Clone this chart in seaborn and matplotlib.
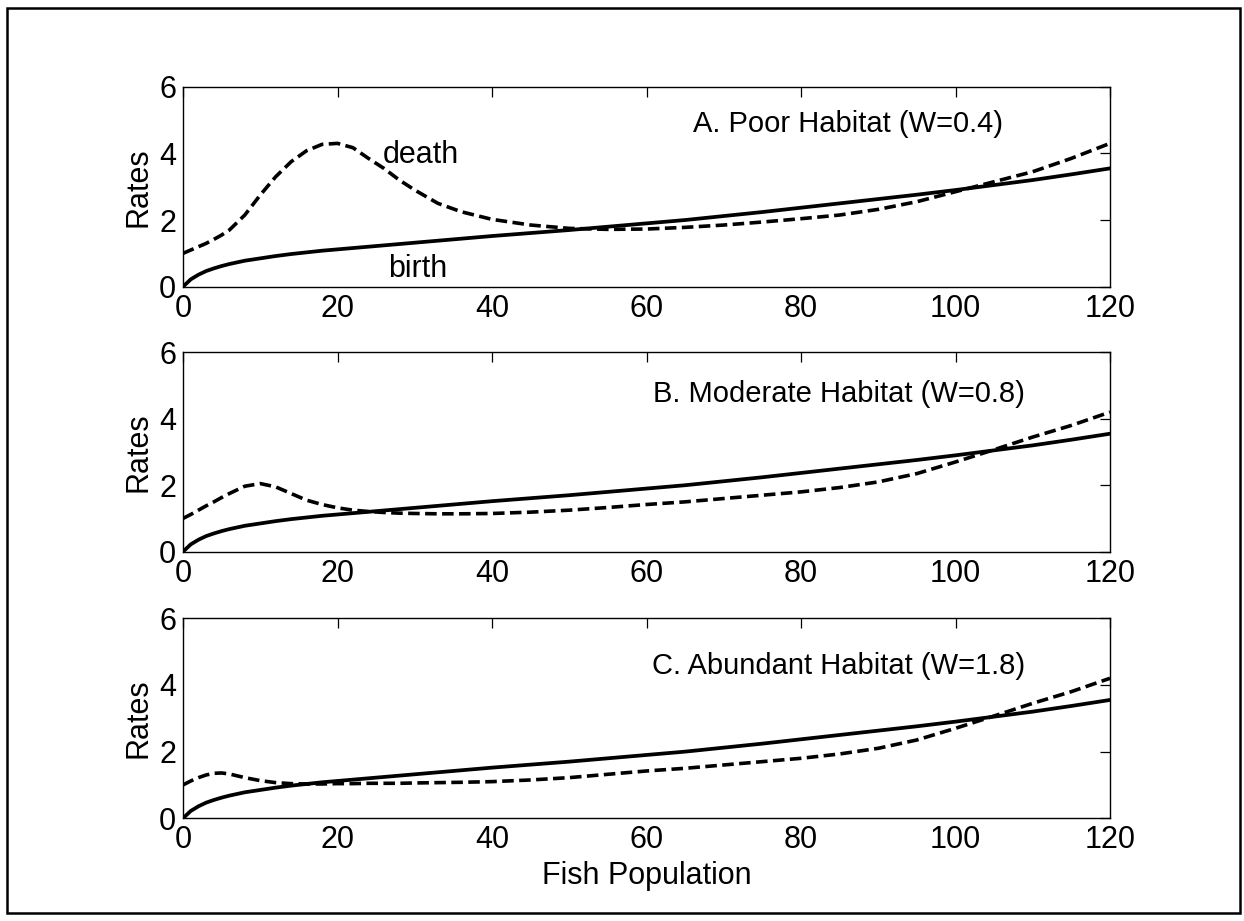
import numpy as np
import pandas as pd
import matplotlib
matplotlib.use("Agg")
import matplotlib.pyplot as plt
from matplotlib.patches import Rectangle
import seaborn as sns

# ---- data ----
fish = [0, 1, 2, 3, 4, 5, 6, 8, 10, 12, 14, 16, 18, 20, 22, 24, 26, 28, 30, 33, 36,
        40, 45, 50, 55, 60, 65, 70, 75, 80, 85, 90, 95, 100, 105, 110, 115, 120]

birth = [0.0, 0.22, 0.36, 0.47, 0.55, 0.62, 0.68, 0.78, 0.85, 0.92, 0.98, 1.03, 1.08,
         1.12, 1.16, 1.20, 1.24, 1.28, 1.32, 1.38, 1.44, 1.52, 1.61, 1.70, 1.80, 1.90,
         2.00, 2.12, 2.24, 2.37, 2.50, 2.63, 2.76, 2.90, 3.05, 3.20, 3.37, 3.55]

death_poor = [1.00, 1.10, 1.20, 1.30, 1.42, 1.55, 1.70, 2.15, 2.75, 3.30, 3.75, 4.08,
              4.27, 4.30, 4.17, 3.85, 3.55, 3.20, 2.90, 2.50, 2.25, 2.02, 1.85, 1.75,
              1.72, 1.73, 1.78, 1.85, 1.94, 2.04, 2.15, 2.32, 2.55, 2.85, 3.15, 3.45,
              3.85, 4.30]

death_moderate = [1.00, 1.12, 1.25, 1.38, 1.50, 1.63, 1.75, 1.97, 2.05, 1.95, 1.75,
                  1.55, 1.42, 1.32, 1.25, 1.21, 1.18, 1.16, 1.15, 1.14, 1.14, 1.15,
                  1.19, 1.25, 1.33, 1.42, 1.50, 1.60, 1.70, 1.80, 1.93, 2.10, 2.35,
                  2.70, 3.07, 3.45, 3.80, 4.20]

death_abundant = [1.00, 1.12, 1.22, 1.30, 1.35, 1.36, 1.33, 1.22, 1.13, 1.07, 1.04,
                  1.03, 1.03, 1.04, 1.04, 1.05, 1.05, 1.05, 1.06, 1.07, 1.08, 1.10,
                  1.15, 1.22, 1.32, 1.42, 1.50, 1.60, 1.70, 1.80, 1.93, 2.10, 2.35,
                  2.70, 3.07, 3.45, 3.80, 4.20]

panel_titles = ["A. Poor Habitat (W=0.4)", "B. Moderate Habitat (W=0.8)",
                "C. Abundant Habitat (W=1.8)"]
x_ticks = [0, 20, 40, 60, 80, 100, 120]
y_ticks = [0, 2, 4, 6]

# ---- styling ----
sns.set_style("white")
plt.rcParams["font.family"] = ["Liberation Sans", "DejaVu Sans"]
plt.rcParams["text.color"] = "black"
plt.rcParams["axes.labelcolor"] = "black"
plt.rcParams["xtick.color"] = "black"
plt.rcParams["ytick.color"] = "black"

W, H = 1244, 921
fig = plt.figure(figsize=(W / 100, H / 100), dpi=100)
fig.patch.set_facecolor("white")

# outer border
fig.patches.append(Rectangle((7 / W, 1 - 913 / H), (1240 - 7) / W, (913 - 8) / H,
                             transform=fig.transFigure, fill=False,
                             edgecolor="black", linewidth=1.8))

left, width = 183 / W, (1110 - 183) / W
tops_bottoms = [(86.7, 286.7), (352.3, 551.7), (618.3, 818.3)]
title_pos = [(66.0, 4.88), (60.8, 4.75), (60.7, 4.58)]
deaths = [death_poor, death_moderate, death_abundant]

axes = []
for i, (top, bot) in enumerate(tops_bottoms):
    ax = fig.add_axes([left, 1 - bot / H, width, (bot - top) / H])
    df = pd.DataFrame({"Fish": fish, "birth": birth, "death": deaths[i]})
    sns.lineplot(data=df, x="Fish", y="birth", ax=ax, color="black",
                 linewidth=2.7, estimator=None, sort=False)
    sns.lineplot(data=df, x="Fish", y="death", ax=ax, color="black",
                 linewidth=2.6, estimator=None, sort=False)
    ax.lines[-1].set_dashes((3.2, 1.5))
    ax.set_xlim(0, 120)
    ax.set_ylim(0, 6)
    ax.set_xticks(x_ticks)
    ax.set_yticks(y_ticks)
    ax.tick_params(direction="in", length=7, width=0.9, top=True, right=True,
                   labelsize=22, pad=5, colors="black")
    for s in ax.spines.values():
        s.set_visible(True)
        s.set_color("black")
        s.set_linewidth(1.0)
    ax.set_xlabel("")
    ax.set_ylabel("Rates", fontsize=22, labelpad=4, color="black")
    ax.text(title_pos[i][0], title_pos[i][1], panel_titles[i], fontsize=21,
            ha="left", va="center", color="black")
    axes.append(ax)

axes[0].text(25.85, 3.95, "death", fontsize=22, ha="left", va="center", color="black")
axes[0].text(26.5, 0.53, "birth", fontsize=22, ha="left", va="center", color="black")
axes[2].set_xlabel("Fish Population", fontsize=22, labelpad=4, color="black")

fig.savefig("out.png", dpi=100, facecolor="white")
